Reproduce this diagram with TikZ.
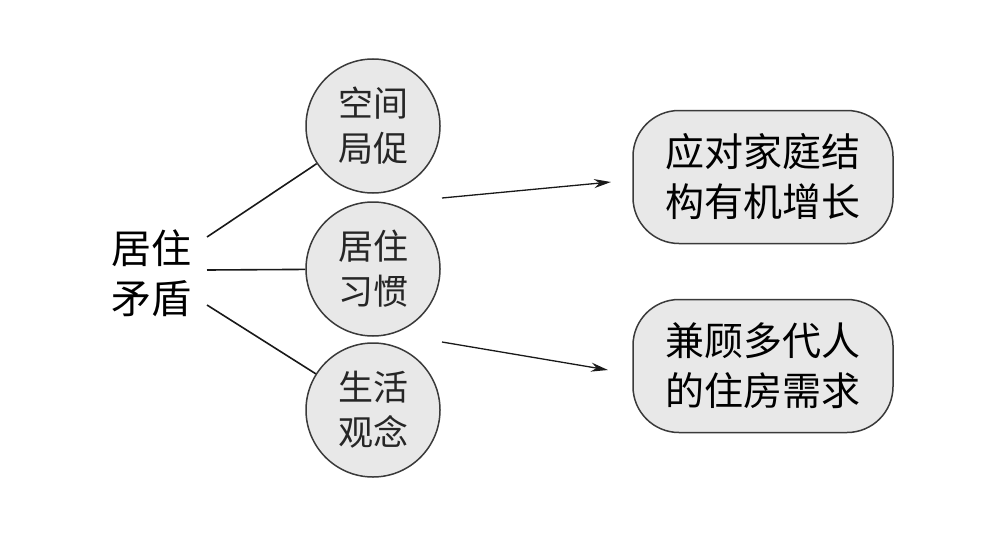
\documentclass[tikz,border=0pt]{standalone}
\usepackage{fontspec}
\setmainfont{Noto Sans CJK SC}
\usetikzlibrary{arrows.meta}
\definecolor{nodefill}{HTML}{E8E8E8}
\definecolor{nodeline}{HTML}{3A3A3A}
\begin{document}
\begin{tikzpicture}[x=1pt,y=-1pt,
  circ/.style={circle,draw=nodeline,fill=nodefill,line width=1.5pt,minimum size=134pt,inner sep=0pt,
    align=center,font=\fontsize{35}{45}\selectfont,text=black!85},
  goal/.style={rectangle,rounded corners=46pt,draw=nodeline,fill=nodefill,line width=1.5pt,
    minimum width=260pt,minimum height=133pt,inner sep=0pt,align=center,
    font=\fontsize{39}{50}\selectfont,text=black},
  link/.style={line width=1.6pt,draw=black!90},
  arr/.style={line width=1.3pt,draw=black!90,-{Stealth[length=17pt,width=9pt]}}]
\useasboundingbox (0,0) rectangle (1000,535);
\fill[white] (0,0) rectangle (1000,535);
\node[align=center,font=\fontsize{40}{50}\selectfont,inner sep=0pt] (src) at (151,273) {居住\\矛盾};
\node[circ] (c1) at (373,126) {空间\\局促};
\node[circ] (c2) at (373,269) {居住\\习惯};
\node[circ] (c3) at (373,410) {生活\\观念};
\node[goal] (g1) at (763,177) {应对家庭结\\构有机增长};
\node[goal] (g2) at (763,366) {兼顾多代人\\的住房需求};
\coordinate (s1) at (207,237);
\coordinate (s2) at (207,270);
\coordinate (s3) at (207,305);
\draw[link] (s1) -- (c1);
\draw[link] (s2) -- (c2);
\draw[link] (s3) -- (c3);
\coordinate (a1s) at (442,198);
\coordinate (a1e) at (611,182);
\coordinate (a2s) at (442,342);
\coordinate (a2e) at (608,370);
\draw[arr] (a1s) -- (a1e);
\draw[arr] (a2s) -- (a2e);
\end{tikzpicture}
\end{document}
